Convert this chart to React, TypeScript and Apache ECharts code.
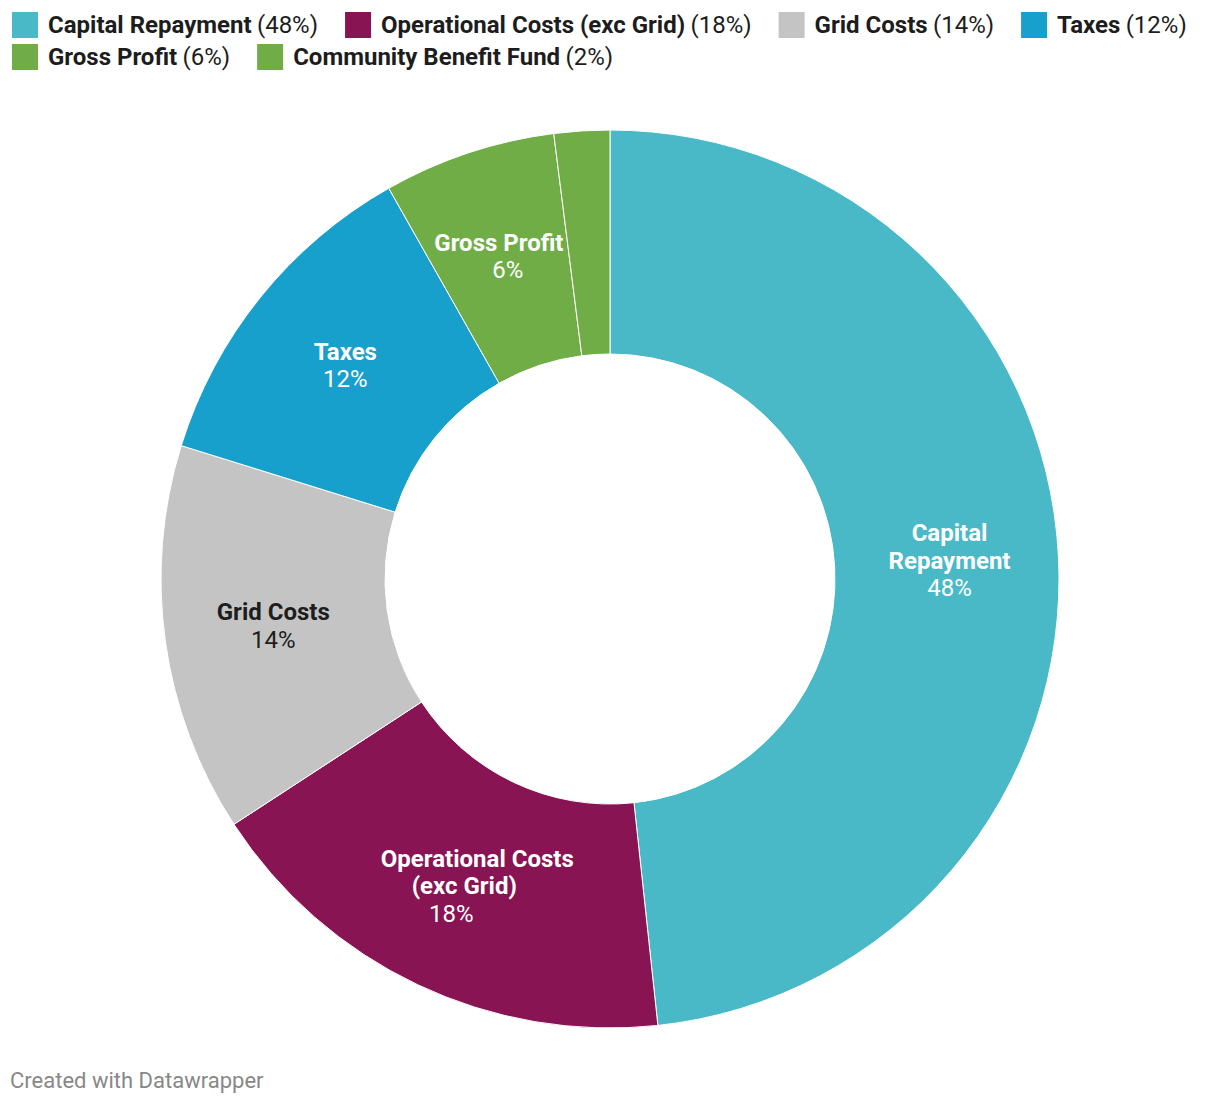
import React, { useEffect, useRef } from "react";
import * as echarts from "echarts";

const categories = [
  "Capital Repayment",
  "Operational Costs (exc Grid)",
  "Grid Costs",
  "Taxes",
  "Gross Profit",
  "Community Benefit Fund",
];
const sliceLabels = [
  "Capital\nRepayment",
  "Operational Costs\n(exc Grid)",
  "Grid Costs",
  "Taxes",
  "Gross Profit",
  "",
];
const values = [48.3, 17.5, 14.0, 12.0, 6.2, 2.0];
const legendPercents = ["48%", "18%", "14%", "12%", "6%", "2%"];
const colors = ["#4ab9c7", "#881453", "#c4c4c4", "#18a0cc", "#70ad47", "#70ad47"];
const labelColors = ["#ffffff", "#ffffff", "#1d1d1d", "#ffffff", "#ffffff", "#ffffff"];

const FONT = "Roboto, 'Noto Sans', sans-serif";

// horizontal shift (px) of each label line (name lines then value line), styling only
const lineShifts: Record<number, number[]> = {
  1: [13, 0, -13],
  4: [-4, 5],
};

export default function App() {
  const ref = useRef<HTMLDivElement>(null);
  useEffect(() => {
    if (!ref.current) return;
    const chart = echarts.init(ref.current, undefined, { renderer: "svg" });
    const legendRich = {
      b: { fontFamily: FONT, fontSize: 24, fontWeight: "bold", color: "#1d1d1d", padding: [0, 0, 0, 4] },
      r: { fontFamily: FONT, fontSize: 24, fontWeight: "normal", color: "#1d1d1d", padding: [0, 0, 0, 2] },
    };
    const legendFormatter = (name: string) => {
      const i = categories.indexOf(name);
      return `{b|${name}} {r|(${legendPercents[i]})}`;
    };
    const legendBase = {
      orient: "horizontal",
      left: 2,
      padding: 0,
      itemWidth: 28,
      itemHeight: 28,
      itemGap: 25,
      icon: "rect",
      selectedMode: false,
      formatter: legendFormatter,
      textStyle: { rich: legendRich },
    };
    const data = categories.map((name, i) => {
      const nameLines = sliceLabels[i].split("\n");
      const shifts = lineShifts[i] || [];
      const rich: any = {};
      const styleFor = (k: number, bold: boolean) => {
        const s = shifts[k] || 0;
        const pad = s >= 0 ? [0, 0, 0, 2 * s] : [0, -2 * s, 0, 0];
        return {
          fontFamily: FONT,
          fontSize: 24,
          fontWeight: bold ? "bold" : "normal",
          color: labelColors[i],
          lineHeight: 27.5,
          padding: pad,
        };
      };
      nameLines.forEach((_, k) => {
        rich["n" + k] = styleFor(k, true);
      });
      rich.v = styleFor(nameLines.length, false);
      const namePart = nameLines.map((l, k) => `{n${k}|${l}}`).join("\n");
      return {
        name,
        value: values[i],
        itemStyle: { color: colors[i] },
        label: {
          show: sliceLabels[i] !== "",
          formatter: (p: any) => `${namePart}\n{v|${Math.round(p.percent)}%}`,
          rich,
        },
      };
    });
    chart.setOption({
      animation: false,
      legend: [
        { ...legendBase, top: 2, data: categories.slice(0, 4) },
        { ...legendBase, top: 34, data: categories.slice(4) },
      ],
      series: [
        {
          type: "pie",
          center: ["50%", 571],
          radius: [225, 449],
          startAngle: 90,
          clockwise: true,
          silent: true,
          avoidLabelOverlap: false,
          label: { position: "inside", align: "center" },
          labelLine: { show: false },
          itemStyle: { borderColor: "#ffffff", borderWidth: 1 },
          emphasis: { disabled: true },
          data,
        },
      ],
      graphic: [
        {
          type: "text",
          left: 2,
          top: 1061,
          style: { text: "Created with Datawrapper", fontFamily: FONT, fontSize: 22, fill: "#888888" },
        },
      ],
    });
    return () => chart.dispose();
  }, []);
  return <div ref={ref} style={{ width: 1204, height: 1090 }} />;
}
